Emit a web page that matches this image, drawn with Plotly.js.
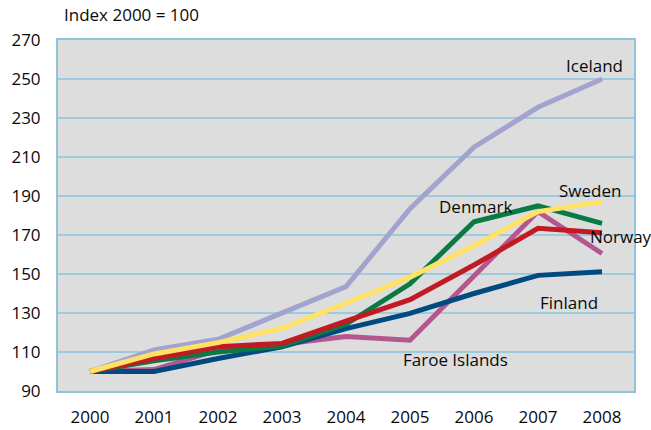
<!DOCTYPE html>
<html>
<head>
<meta charset="utf-8">
<script src="https://cdn.plot.ly/plotly-3.0.1.min.js"></script>
<style>html,body{margin:0;padding:0;background:#fff;}#chart{width:651px;height:430px;}</style>
</head>
<body>
<div id="chart"></div>
<script>
const years = ["2000","2001","2002","2003","2004","2005","2006","2007","2008"];
const iceland = [100, 111, 116.5, 130, 143.5, 183.5, 215, 235.5, 250];
const faroe   = [100, 101, 111, 114, 118, 116, 149, 182, 160.5];
const finland = [100, 100, 106.7, 112.7, 122, 129.8, 140, 149.3, 151.2];
const denmark = [100, 105.5, 110, 113, 124.2, 145, 176.8, 184.9, 176];
const norway  = [100, 106.7, 112.7, 114.4, 125.8, 136.8, 154.6, 173.4, 171.2];
const sweden  = [100, 109, 114.8, 122.2, 135, 148.4, 164.5, 182, 187];

const names = ["Iceland","Faroe Islands","Finland","Denmark","Norway","Sweden"];
const series = [iceland, faroe, finland, denmark, norway, sweden];
const colors = ["#a3a3d0","#b3578f","#004a80","#0a7a45","#c21a22","#ffe264"];

const traces = series.map((s,i)=>({
  x: years, y: s, name: names[i], type: "scatter", mode: "lines",
  line: {color: colors[i], width: 5, shape: "linear"},
  hoverinfo: "skip", cliponaxis: false
}));

const FONT = "Open Sans, Noto Sans, sans-serif";
const TXT = "#0a0a0a";
const labelPos = {
  "Iceland": [7.88, 256.7],
  "Sweden": [7.81, 193],
  "Denmark": [6.02, 184.4],
  "Norway": [8.3, 169],
  "Finland": [7.48, 135.6],
  "Faroe Islands": [5.71, 106.4]
};
const annotations = names.map(n=>({
  x: labelPos[n][0], y: labelPos[n][1], xref: "x", yref: "y",
  text: n, showarrow: false, xanchor: "center", yanchor: "middle",
  font: {family: FONT, size: 17, color: TXT}
}));
annotations.push({
  x: (62-58)/(651-58-17), y: 1 + (40-15)/(430-40-39),
  xref: "paper", yref: "paper", text: "Index 2000 = 100",
  showarrow: false, xanchor: "left", yanchor: "middle",
  font: {family: FONT, size: 17, color: TXT}
});

const layout = {
  width: 651, height: 430,
  margin: {l: 58, r: 17, t: 40, b: 39},
  paper_bgcolor: "#ffffff",
  plot_bgcolor: "#dddddd",
  showlegend: false,
  font: {family: FONT, size: 17, color: TXT},
  xaxis: {
    type: "category", range: [-0.5, 8.5], showgrid: false,
    showline: true, mirror: true, linecolor: "#8fc4dc", linewidth: 2,
    ticks: "", ticklabelstandoff: 10, zeroline: false,
    tickfont: {family: FONT, size: 17, color: TXT}, fixedrange: true
  },
  yaxis: {
    range: [90, 270], tickvals: [90,110,130,150,170,190,210,230,250,270],
    showgrid: true, gridcolor: "#9ccbe0", gridwidth: 1.5,
    showline: true, mirror: true, linecolor: "#8fc4dc", linewidth: 2,
    ticks: "", ticklabelstandoff: 12, zeroline: false,
    tickfont: {family: FONT, size: 17, color: TXT}, fixedrange: true
  },
  annotations: annotations
};

Plotly.newPlot("chart", traces, layout, {staticPlot: true, displayModeBar: false});
</script>
</body>
</html>
